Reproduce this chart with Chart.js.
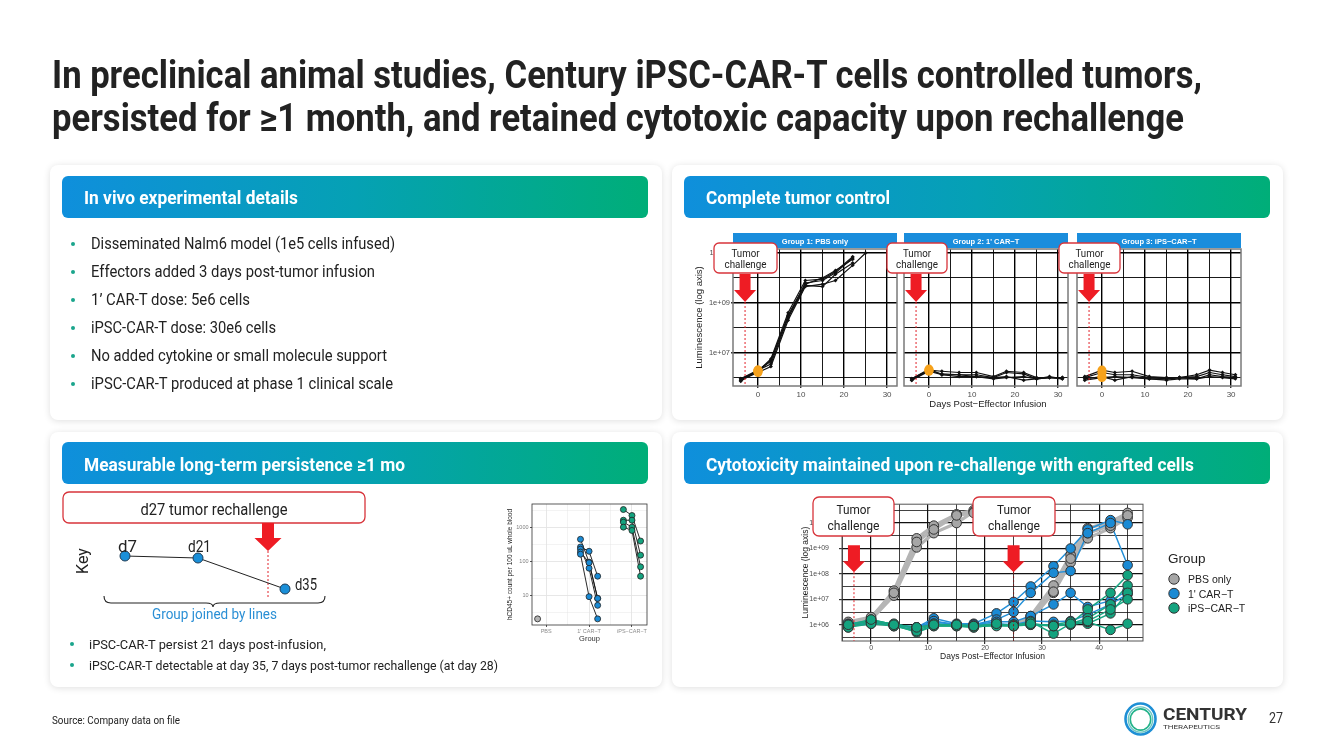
<!DOCTYPE html>
<html>
<head>
<meta charset="utf-8">
<title>Century iPSC-CAR-T preclinical</title>
<script src="https://cdn.jsdelivr.net/npm/chart.js@4.4.1/dist/chart.umd.min.js"></script>
<style>
html, body { margin: 0; padding: 0; background: #fff; }
#slide { position: relative; width: 1333px; height: 749px; overflow: hidden; background: #fff; }
.card { position: absolute; background: #fff; border-radius: 8px; box-shadow: 0 1px 7px rgba(0,0,0,0.13); }
canvas { position: absolute; }
#over { position: absolute; left: 0; top: 0; }
</style>
</head>
<body>
<div id="slide">
  <div class="card" style="left:50px;top:165px;width:612px;height:255px"></div>
  <div class="card" style="left:672px;top:165px;width:611px;height:255px"></div>
  <div class="card" style="left:50px;top:432px;width:612px;height:255px"></div>
  <div class="card" style="left:672px;top:432px;width:611px;height:255px"></div>

  <canvas id="f1" width="210" height="170" style="left:693px;top:240px"></canvas>
  <canvas id="f2" width="176" height="170" style="left:898px;top:240px"></canvas>
  <canvas id="f3" width="176" height="170" style="left:1071px;top:240px"></canvas>
  <canvas id="rc" width="350" height="175" style="left:800px;top:490px"></canvas>
  <canvas id="pc" width="150" height="145" style="left:503px;top:498px"></canvas>

  <svg id="over" width="1333" height="749" viewBox="0 0 1333 749" font-family="Roboto, sans-serif">
    <defs>
      <linearGradient id="hdr" x1="0" x2="1" y1="0" y2="0">
        <stop offset="0" stop-color="#0f8fdc"/>
        <stop offset="0.5" stop-color="#05a1b4"/>
        <stop offset="1" stop-color="#00ae78"/>
      </linearGradient>
    </defs>

    <!-- title -->
    <text x="52" y="88" font-weight="700" font-size="38.5" fill="#222" textLength="1150" lengthAdjust="spacingAndGlyphs">In preclinical animal studies, Century iPSC-CAR-T cells controlled tumors,</text>
    <text x="52" y="131" font-weight="700" font-size="38.5" fill="#222" textLength="1132" lengthAdjust="spacingAndGlyphs">persisted for ≥1 month, and retained cytotoxic capacity upon rechallenge</text>

    <!-- header bars -->
    <rect x="62" y="176" width="586" height="42" rx="6" fill="url(#hdr)"/>
    <rect x="684" y="176" width="586" height="42" rx="6" fill="url(#hdr)"/>
    <rect x="62" y="442" width="586" height="42" rx="6" fill="url(#hdr)"/>
    <rect x="684" y="442" width="586" height="42" rx="6" fill="url(#hdr)"/>
    <g font-weight="700" font-size="19" fill="#fff">
      <text x="84" y="204" textLength="214" lengthAdjust="spacingAndGlyphs">In vivo experimental details</text>
      <text x="706" y="204" textLength="184" lengthAdjust="spacingAndGlyphs">Complete tumor control</text>
      <text x="84" y="471" textLength="321" lengthAdjust="spacingAndGlyphs">Measurable long-term persistence ≥1 mo</text>
      <text x="706" y="471" textLength="488" lengthAdjust="spacingAndGlyphs">Cytotoxicity maintained upon re-challenge with engrafted cells</text>
    </g>

    <!-- bullets panel 1 -->
    <g fill="#1aa58c">
      <circle cx="73" cy="244" r="2"/><circle cx="73" cy="272" r="2"/><circle cx="73" cy="300" r="2"/>
      <circle cx="73" cy="328" r="2"/><circle cx="73" cy="356" r="2"/><circle cx="73" cy="384" r="2"/>
    </g>
    <g font-size="16" fill="#222">
      <text x="91" y="249" textLength="304" lengthAdjust="spacingAndGlyphs">Disseminated Nalm6 model (1e5 cells infused)</text>
      <text x="91" y="277" textLength="284" lengthAdjust="spacingAndGlyphs">Effectors added 3 days post-tumor infusion</text>
      <text x="91" y="305" textLength="159" lengthAdjust="spacingAndGlyphs">1’ CAR-T dose: 5e6 cells</text>
      <text x="91" y="333" textLength="185" lengthAdjust="spacingAndGlyphs">iPSC-CAR-T dose: 30e6 cells</text>
      <text x="91" y="361" textLength="296" lengthAdjust="spacingAndGlyphs">No added cytokine or small molecule support</text>
      <text x="91" y="389" textLength="302" lengthAdjust="spacingAndGlyphs">iPSC-CAR-T produced at phase 1 clinical scale</text>
    </g>

    <!-- facet strips -->
    <g font-family="'Liberation Sans', Arial, sans-serif" font-size="7.5" font-weight="700" fill="#fff" text-anchor="middle">
      <rect x="733" y="233" width="164" height="15" fill="#1a8ddc"/>
      <rect x="904" y="233" width="164" height="15" fill="#1a8ddc"/>
      <rect x="1077" y="233" width="164" height="15" fill="#1a8ddc"/>
      <text x="815" y="243.5">Group 1: PBS only</text>
      <text x="986" y="243.5">Group 2: 1' CAR−T</text>
      <text x="1159" y="243.5">Group 3: iPS−CAR−T</text>
    </g>
    <text x="988" y="407" font-family="'Liberation Sans', Arial, sans-serif" font-size="9.5" fill="#222" text-anchor="middle">Days Post−Effector Infusion</text>

    <!-- callouts panel 2 -->
    <g fill="#fff" stroke="#d8343b" stroke-width="1.3">
      <rect x="714" y="243" width="63" height="30" rx="5"/>
      <rect x="887" y="243" width="60" height="30" rx="5"/>
      <rect x="1059" y="243" width="61" height="30" rx="5"/>
    </g>
    <g font-size="11" fill="#222" text-anchor="middle">
      <text x="745.5" y="257" textLength="28" lengthAdjust="spacingAndGlyphs">Tumor</text>
      <text x="745.5" y="268" textLength="42" lengthAdjust="spacingAndGlyphs">challenge</text>
      <text x="917" y="257" textLength="28" lengthAdjust="spacingAndGlyphs">Tumor</text>
      <text x="917" y="268" textLength="42" lengthAdjust="spacingAndGlyphs">challenge</text>
      <text x="1089.5" y="257" textLength="28" lengthAdjust="spacingAndGlyphs">Tumor</text>
      <text x="1089.5" y="268" textLength="42" lengthAdjust="spacingAndGlyphs">challenge</text>
    </g>

    <!-- callouts panel 4 -->
    <g fill="#fff" stroke="#d8343b" stroke-width="1.3">
      <rect x="813" y="497" width="81" height="39" rx="6"/>
      <rect x="973" y="497" width="82" height="39" rx="6"/>
    </g>
    <g font-size="13" fill="#222" text-anchor="middle">
      <text x="853.5" y="514" textLength="34" lengthAdjust="spacingAndGlyphs">Tumor</text>
      <text x="853.5" y="530" textLength="52" lengthAdjust="spacingAndGlyphs">challenge</text>
      <text x="1014" y="514" textLength="34" lengthAdjust="spacingAndGlyphs">Tumor</text>
      <text x="1014" y="530" textLength="52" lengthAdjust="spacingAndGlyphs">challenge</text>
    </g>

    <!-- legend panel 4 -->
    <g font-family="'Liberation Sans', Arial, sans-serif" fill="#222">
      <text x="1168" y="563" font-size="13.5">Group</text>
      <circle cx="1174" cy="579" r="5.2" fill="#a6a6a6" stroke="#333" stroke-width="1"/>
      <circle cx="1174" cy="593.5" r="5.2" fill="#1a8ad4" stroke="#333" stroke-width="1"/>
      <circle cx="1174" cy="608" r="5.2" fill="#14a37f" stroke="#333" stroke-width="1"/>
      <text x="1188" y="583" font-size="10.5">PBS only</text>
      <text x="1188" y="597.5" font-size="10.5">1' CAR−T</text>
      <text x="1188" y="612" font-size="10.5">iPS−CAR−T</text>
    </g>

    <!-- key, panel 3 -->
    <rect x="63" y="492" width="302" height="31" rx="6" fill="#fff" stroke="#d8343b" stroke-width="1.3"/>
    <text x="214" y="515" font-size="16" fill="#222" text-anchor="middle" textLength="147" lengthAdjust="spacingAndGlyphs">d27 tumor rechallenge</text>
    <path d="M262,523 H274 V538 H281.5 L268,551 L254.5,538 H262 Z" fill="#ee1c24"/>
    <line x1="268" y1="551" x2="268" y2="598" stroke="#e2232a" stroke-width="1" stroke-dasharray="2,2"/>
    <text transform="translate(88,561) rotate(-90)" font-size="16" fill="#222" text-anchor="middle">Key</text>
    <polyline points="125,556 198,558 285,589" fill="none" stroke="#222" stroke-width="1"/>
    <g fill="#1a8fd8" stroke="#1d3b55" stroke-width="1">
      <circle cx="125" cy="556" r="5"/><circle cx="198" cy="558" r="5"/><circle cx="285" cy="589" r="5"/>
    </g>
    <g font-size="16" fill="#222">
      <text x="118" y="552" textLength="19" lengthAdjust="spacingAndGlyphs">d7</text>
      <text x="188" y="552" textLength="23" lengthAdjust="spacingAndGlyphs">d21</text>
      <text x="295" y="590" textLength="22" lengthAdjust="spacingAndGlyphs">d35</text>
    </g>
    <path d="M104,596 Q104,603 111,603 L206,603 Q213,603 213,607 Q213,603 220,603 L318,603 Q325,603 325,596" fill="none" stroke="#222" stroke-width="1.1"/>
    <text x="214.5" y="619" font-size="14" fill="#2a8fd5" text-anchor="middle" textLength="125" lengthAdjust="spacingAndGlyphs">Group joined by lines</text>

    <!-- bullets panel 3 -->
    <circle cx="72" cy="644" r="2" fill="#1aa58c"/>
    <circle cx="72" cy="665" r="2" fill="#1aa58c"/>
    <text x="89" y="649" font-size="13.5" fill="#222" textLength="237" lengthAdjust="spacingAndGlyphs">iPSC-CAR-T persist 21 days post-infusion,</text>
    <text x="89" y="670" font-size="13.5" fill="#222" textLength="409" lengthAdjust="spacingAndGlyphs">iPSC-CAR-T detectable at day 35, 7 days post-tumor rechallenge (at day 28)</text>

    <!-- footer -->
    <text x="52" y="724" font-size="11" fill="#222" textLength="128" lengthAdjust="spacingAndGlyphs">Source: Company data on file</text>
    <ellipse cx="1140.5" cy="719" rx="15" ry="15.5" fill="none" stroke="#1e8fd5" stroke-width="2.6"/>
    <ellipse cx="1140.5" cy="719.5" rx="12.2" ry="12.6" fill="none" stroke="#6cc6c2" stroke-width="1.4"/>
    <ellipse cx="1140.5" cy="719.5" rx="10.2" ry="10.6" fill="none" stroke="#22b289" stroke-width="1.6"/>
    <text x="1163" y="720" font-size="16" font-weight="700" fill="#333" textLength="84" lengthAdjust="spacingAndGlyphs">CENTURY</text>
    <text x="1163" y="728.5" font-size="5.5" fill="#333" textLength="57" lengthAdjust="spacingAndGlyphs">THERAPEUTICS</text>
    <text x="1269" y="723" font-size="14" fill="#333" textLength="14" lengthAdjust="spacingAndGlyphs">27</text>
  </svg>
</div>

<script>
// ---- complete tumor control (3 facets) ----
var tcDays = [-4, 0, 3, 7, 11, 15, 18, 22, 25, 28, 31];
var tcTicksX = [0, 5, 10, 15, 20, 25, 30];
var tcTicksY = [1e6, 1e7, 1e8, 1e9, 1e10, 1e11];
var tcLabelsY = [1e7, 1e9, 1e11];
var tcChallengeDay = -3;
// luminescence per mouse, one row per mouse
var pbsMice = [
    [7.9e5, 1.8e6, 5.6e6, 4.0e8, 7.9e9, 8.9e9, 1.8e10, 7.1e10, null, null, null],
    [8.9e5, 2.0e6, 4.5e6, 3.2e8, 5.6e9, 1.0e10, 2.0e10, 5.6e10, null, null, null],
    [7.1e5, 2.0e6, 3.5e6, 2.5e8, 5.0e9, 4.5e9, 1.4e10, 4.0e10, null, null, null],
    [7.9e5, 1.6e6, 2.8e6, 2.0e8, 4.5e9, 5.6e9, 7.9e9, 3.2e10, 1.0e11, null, null],
    [8.9e5, 1.8e6, 5.0e6, 2.8e8, 6.3e9, 7.9e9, 1.6e10, 6.3e10, null, null, null]
];
var cartMice = [
    [8.9e5, 2.0e6, 1.8e6, 1.6e6, 1.6e6, 1.1e6, 1.8e6, 1.6e6, 1.0e6, 1.0e6, 8.9e5],
    [7.9e5, 2.0e6, 1.4e6, 1.3e6, 1.3e6, 1.0e6, 1.1e6, 7.9e5, 8.9e5, 1.1e6, 8.9e5],
    [8.9e5, 2.2e6, 1.3e6, 1.1e6, 1.1e6, 8.9e5, 1.0e6, 1.1e6, 8.9e5, 1.0e6, 1.0e6],
    [7.9e5, 1.8e6, 1.3e6, 1.3e6, 1.1e6, 1.0e6, 1.6e6, 1.4e6, 8.9e5, 1.0e6, 1.0e6]
];
var ipsMice = [
    [1.1e6, 2.0e6, 1.6e6, 1.8e6, 1.1e6, 1.0e6, 1.0e6, 1.3e6, 2.0e6, 1.6e6, 1.3e6],
    [1.0e6, 1.6e6, 1.3e6, 1.3e6, 1.0e6, 8.9e5, 1.0e6, 1.1e6, 1.6e6, 1.3e6, 1.1e6],
    [8.9e5, 1.1e6, 7.9e5, 1.1e6, 8.9e5, 8.9e5, 1.0e6, 8.9e5, 1.3e6, 1.1e6, 1.0e6],
    [7.9e5, 1.0e6, 1.1e6, 1.0e6, 8.9e5, 7.9e5, 8.9e5, 8.9e5, 1.1e6, 1.0e6, 8.9e5]
];

// ---- re-challenge ----
var rcDays = [-4, 0, 4, 8, 11, 15, 18, 22, 25, 28, 32, 35, 38, 42, 45];
var rcTicksX = [-5, 0, 5, 10, 15, 20, 25, 30, 35, 40, 45];
var rcTicksY = [3.162e5, 1e6, 3.162e6, 1e7, 3.162e7, 1e8, 3.162e8, 1e9, 3.162e9, 1e10, 3.162e10];
var rcChallengeDays = [-3, 25];
var rcPbs = [
    [1.1e6, 1.8e6, 2.2e7, 2.5e9, 7.9e9, 2.2e10, 3.2e10, null, null, null, null, null, null, null, null],
    [1.0e6, 1.6e6, 1.4e7, 1.1e9, 4.0e9, 1.0e10, 2.8e10, null, null, null, null, null, null, null, null],
    [1.3e6, 2.0e6, 1.8e7, 1.8e9, 5.6e9, 2.0e10, 2.5e10, null, null, null, null, null, null, null, null],
    [null, null, null, null, null, null, null, null, 1.0e6, 2.2e6, 3.5e7, 5.6e8, 6.3e9, 1.1e10, 2.5e10],
    [null, null, null, null, null, null, null, null, 8.9e5, 1.6e6, 1.8e7, 2.8e8, 2.5e9, 6.3e9, 1.6e10],
    [null, null, null, null, null, null, null, null, 1.0e6, 2.0e6, 2.0e7, 4.0e8, 4.0e9, 7.9e9, 2.0e10]
];
var rcCart = [
    [1.1e6, 1.4e6, 1.0e6, 7.9e5, 1.8e6, 1.1e6, 1.1e6, 2.8e6, 7.9e6, 3.2e7, 2.0e8, 1.0e9, 5.6e9, 1.3e10, 8.9e9],
    [1.0e6, 1.3e6, 1.0e6, 7.1e5, 1.3e6, 1.0e6, 1.0e6, 1.6e6, 3.2e6, 1.8e7, 1.1e8, 1.3e8, 4.0e9, 1.0e10, 2.2e8],
    [1.0e6, 1.3e6, 8.9e5, 7.9e5, 1.4e6, 1.0e6, 1.0e6, 1.3e6, 1.3e6, 2.2e6, 6.3e6, 1.8e7, 5.0e6, 8.9e6, 2.2e7],
    [8.9e5, 1.1e6, 1.0e6, 7.9e5, 1.1e6, 1.0e6, 1.0e6, 1.1e6, 1.0e6, 1.4e6, 1.3e6, 1.4e6, 2.5e6, 6.3e6, 1.6e7]
];
var rcIps = [
    [8.9e5, 1.6e6, 1.0e6, 5.0e5, 8.9e5, 8.9e5, 7.9e5, 1.0e6, 1.0e6, 1.1e6, 8.9e5, 1.1e6, 4.0e6, 1.8e7, 8.9e7],
    [7.9e5, 1.3e6, 8.9e5, 6.3e5, 1.0e6, 1.0e6, 8.9e5, 1.0e6, 8.9e5, 1.3e6, 4.5e5, 1.1e6, 1.8e6, 6.3e6, 3.5e7],
    [1.0e6, 1.4e6, 1.1e6, 7.1e5, 1.1e6, 8.9e5, 7.9e5, 1.0e6, 1.0e6, 1.0e6, 1.0e6, 1.3e6, 1.1e6, 2.8e6, 1.8e7],
    [7.9e5, 1.1e6, 8.9e5, 5.6e5, 8.9e5, 8.9e5, 8.9e5, 8.9e5, 8.9e5, 1.0e6, 8.9e5, 1.0e6, 1.3e6, 6.3e5, 1.1e6],
    [1.0e6, 1.6e6, 1.0e6, 7.9e5, 1.0e6, 1.0e6, 8.9e5, 1.1e6, 8.9e5, 1.1e6, 8.9e5, 1.1e6, 1.4e6, 4.0e6, 1.0e7]
];

// ---- persistence (hCD45+ per 100 uL blood at d7, d21, d35) ----
var pGroups = ['PBS', "1' CAR\u2212T", 'iPS\u2212CAR\u2212T'];
var pDays = ['d7', 'd21', 'd35'];
var pTicksX = [0, 0.5, 1, 1.5, 2];
var pTicksY = [3.162, 10, 31.62, 100, 316.2, 1000, 3162];
var pPbs = [[2, null, null]];
var pCart = [[440, 93, 8], [260, 195, 36], [225, 62, 5], [185, 90, 8], [160, 9, 2]];
var pIps = [[3300, 2200, 390], [1600, 1600, 150], [1400, 1000, 68], [1000, 800, 36]];

Chart.defaults.font.family = "'Liberation Sans', Arial, sans-serif";
Chart.defaults.color = '#4d4d4d';
Chart.defaults.animation = false;
Chart.defaults.responsive = false;
Chart.defaults.plugins.legend.display = false;
Chart.defaults.plugins.tooltip.enabled = false;

function isDecade(v) { var l = Math.log10(v); return Math.abs(l - Math.round(l)) < 0.01; }
function sci(v) { var e = Math.round(Math.log10(v)); return '1e+' + (e < 10 ? '0' + e : e); }
function setTicks(list) { return function (s) { s.ticks = list.map(function (v) { return { value: v }; }); }; }
function pts(days, row) { return days.map(function (d, i) { return { x: d, y: row[i] }; }); }

// panel border on top, like ggplot
var framePlugin = {
    id: 'frame',
    afterDatasetsDraw: function (chart, args, o) {
        var a = chart.chartArea, c = chart.ctx;
        c.save();
        c.strokeStyle = o.color || '#333';
        c.lineWidth = o.width || 1;
        c.strokeRect(a.left, a.top, a.right - a.left, a.bottom - a.top);
        c.restore();
    }
};

// red arrow + dotted line at a challenge day
var challengePlugin = {
    id: 'challenge',
    afterDraw: function (chart, args, o) {
        if (!o.marks) return;
        var c = chart.ctx, a = chart.chartArea, xs = chart.scales.x;
        o.marks.forEach(function (m) {
            var x = xs.getPixelForValue(m.day);
            var top = a.top + m.top, tip = top + m.len, hy = tip - m.headLen;
            c.save();
            c.strokeStyle = m.line;
            c.lineWidth = 1;
            c.setLineDash([2, 2]);
            c.beginPath(); c.moveTo(x, tip); c.lineTo(x, a.bottom); c.stroke();
            c.setLineDash([]);
            c.fillStyle = '#ee1c24';
            c.beginPath();
            c.moveTo(x - m.shaft / 2, top); c.lineTo(x + m.shaft / 2, top);
            c.lineTo(x + m.shaft / 2, hy); c.lineTo(x + m.head / 2, hy);
            c.lineTo(x, tip); c.lineTo(x - m.head / 2, hy);
            c.lineTo(x - m.shaft / 2, hy); c.closePath(); c.fill();
            c.restore();
        });
    }
};

function facet(id, mice, withAxis) {
    var sets = mice.map(function (m) {
        return { data: pts(tcDays, m), borderColor: '#111', borderWidth: 1.2, pointStyle: 'rectRot',
            pointRadius: 2, pointBackgroundColor: '#111', pointBorderWidth: 0, order: 2 };
    });
    var i0 = tcDays.indexOf(0);
    sets.push({ data: mice.map(function (m) { return { x: 0, y: m[i0] }; }), showLine: false,
        pointRadius: 4.5, pointBackgroundColor: '#f6a21c', pointBorderWidth: 0, order: 1 });
    return new Chart(document.getElementById(id), {
        type: 'line',
        data: { datasets: sets },
        options: {
            layout: { padding: { top: 9, right: 6, left: withAxis ? 0 : 6, bottom: 0 } },
            scales: {
                x: {
                    type: 'linear', min: -5.8, max: 32.3,
                    afterBuildTicks: setTicks(tcTicksX),
                    afterFit: function (s) { s.height = 24; },
                    border: { display: false },
                    grid: {
                        color: '#000', tickLength: 2,
                        lineWidth: function (c) { return c.tick && c.tick.value % 10 === 0 ? 1.4 : 0.9; },
                        tickColor: function (c) { return c.tick && c.tick.value % 10 === 0 ? '#333' : 'rgba(0,0,0,0)'; }
                    },
                    ticks: { autoSkip: false, maxRotation: 0, padding: 2, font: { size: 8 },
                        callback: function (v) { return v % 10 === 0 ? String(v) : ''; } }
                },
                y: {
                    type: 'logarithmic', min: 4.6e5, max: 1.45e11,
                    afterBuildTicks: setTicks(tcTicksY),
                    afterFit: function (s) { s.width = withAxis ? 40 : 0; },
                    border: { display: false },
                    grid: {
                        color: '#000', tickLength: 2, drawTicks: withAxis,
                        lineWidth: function (c) { return c.tick && tcLabelsY.indexOf(c.tick.value) >= 0 ? 1.4 : 0.9; },
                        tickColor: function (c) { return c.tick && tcLabelsY.indexOf(c.tick.value) >= 0 ? '#333' : 'rgba(0,0,0,0)'; }
                    },
                    ticks: { display: withAxis, autoSkip: false, padding: 1, font: { size: 7.5 },
                        callback: function (v) { return tcLabelsY.indexOf(v) >= 0 ? sci(v) : ''; } },
                    title: { display: withAxis, text: 'Luminescence (log axis)', color: '#222',
                        font: { size: 9.5 }, padding: { top: 1, bottom: 0 } }
                }
            },
            plugins: {
                frame: { color: '#7a7a7a', width: 1.5 },
                challenge: { marks: [{ day: tcChallengeDay, top: 25, len: 28, headLen: 12, shaft: 11, head: 22, line: '#e2232a' }] }
            }
        },
        plugins: [framePlugin, challengePlugin]
    });
}
facet('f1', pbsMice, true);
facet('f2', cartMice, false);
facet('f3', ipsMice, false);

// re-challenge chart: lines under points, like geom_line + geom_point
var rcSets = [];
function rcGroup(rows, fill, line, lw, lineOrder, ptOrder) {
    var all = [];
    rows.forEach(function (r) {
        rcSets.push({ data: pts(rcDays, r), borderColor: line, borderWidth: lw, pointRadius: 0, order: lineOrder });
        pts(rcDays, r).forEach(function (p) { if (p.y != null) all.push(p); });
    });
    rcSets.push({ data: all, showLine: false, pointRadius: 4.8, pointBackgroundColor: fill,
        pointBorderColor: '#333', pointBorderWidth: 1, order: ptOrder });
}
rcGroup(rcPbs, '#a6a6a6', '#b5b5b5', 3.2, 6, 3);
rcGroup(rcCart, '#1a8ad4', '#2590d8', 1.5, 5, 2);
rcGroup(rcIps, '#14a37f', '#19a683', 1.5, 4, 1);

new Chart(document.getElementById('rc'), {
    type: 'line',
    data: { datasets: rcSets },
    options: {
        layout: { padding: { top: 6, right: 7, left: 0, bottom: 0 } },
        scales: {
            x: {
                type: 'linear', min: -5.1, max: 47.7,
                afterBuildTicks: setTicks(rcTicksX),
                afterFit: function (s) { s.height = 24; },
                border: { display: false },
                grid: {
                    color: '#111', tickLength: 3,
                    lineWidth: function (c) { return c.tick && c.tick.value % 10 === 0 ? 1.2 : 0.8; },
                    tickColor: function (c) { return c.tick && c.tick.value % 10 === 0 ? '#333' : 'rgba(0,0,0,0)'; }
                },
                ticks: { autoSkip: false, maxRotation: 0, padding: 0, font: { size: 7 },
                    callback: function (v) { return v % 10 === 0 ? String(v) : ''; } },
                title: { display: true, text: 'Days Post\u2212Effector Infusion', color: '#222',
                    font: { size: 8.5 }, padding: { top: 0, bottom: 3 } }
            },
            y: {
                type: 'logarithmic', min: 2.3e5, max: 5.5e10,
                afterBuildTicks: setTicks(rcTicksY),
                afterFit: function (s) { s.width = 42; },
                border: { display: false },
                grid: {
                    color: '#111', tickLength: 3,
                    lineWidth: function (c) { return c.tick && isDecade(c.tick.value) ? 1.2 : 0.8; },
                    tickColor: function (c) { return c.tick && isDecade(c.tick.value) ? '#333' : 'rgba(0,0,0,0)'; }
                },
                ticks: { autoSkip: false, padding: 10, font: { size: 7 },
                    callback: function (v) { return isDecade(v) ? sci(v) : ''; } },
                title: { display: true, text: 'Luminescence (log axis)', color: '#222',
                    font: { size: 8.5 }, padding: { top: 1, bottom: 0 } }
            }
        },
        plugins: {
            frame: { color: '#555', width: 1 },
            challenge: { marks: [
                { day: rcChallengeDays[0], top: 41, len: 27, headLen: 11, shaft: 12, head: 22, line: '#e2232a' },
                { day: rcChallengeDays[1], top: 41, len: 27, headLen: 11, shaft: 12, head: 22, line: '#7a1b1b' }
            ] }
        }
    },
    plugins: [framePlugin, challengePlugin]
});

// persistence chart, points dodged by sample day
var dodge = [-0.2, 0, 0.2];
var pSets = [];
function pGroup(rows, gi, fill) {
    var all = [];
    rows.forEach(function (r) {
        var d = r.map(function (v, j) { return { x: gi + dodge[j], y: v }; });
        pSets.push({ data: d, borderColor: '#111', borderWidth: 0.9, pointRadius: 0, order: 2 });
        d.forEach(function (p) { if (p.y != null) all.push(p); });
    });
    pSets.push({ data: all, showLine: false, pointRadius: 3, pointBackgroundColor: fill,
        pointBorderColor: '#222', pointBorderWidth: 0.8, order: 1 });
}
pGroup(pPbs, 0, '#b3b3b3');
pGroup(pCart, 1, '#1a8ad4');
pGroup(pIps, 2, '#14a37f');

new Chart(document.getElementById('pc'), {
    type: 'line',
    data: { datasets: pSets },
    options: {
        layout: { padding: { top: 6, right: 6, left: 0, bottom: 0 } },
        scales: {
            x: {
                type: 'linear', min: -0.33, max: 2.35,
                afterBuildTicks: setTicks(pTicksX),
                afterFit: function (s) { s.height = 18; },
                border: { display: false },
                grid: {
                    color: '#e4e4e4', tickLength: 2,
                    lineWidth: function (c) { return c.tick && c.tick.value % 1 === 0 ? 0.9 : 0.45; },
                    tickColor: function (c) { return c.tick && c.tick.value % 1 === 0 ? '#444' : 'rgba(0,0,0,0)'; }
                },
                ticks: { autoSkip: false, maxRotation: 0, padding: 1, font: { size: 5.5 }, color: '#8c8c8c',
                    callback: function (v) { return v % 1 === 0 ? pGroups[v] : ''; } },
                title: { display: true, text: 'Group', color: '#333', font: { size: 7.5 }, padding: { top: 0, bottom: 0 } }
            },
            y: {
                type: 'logarithmic', min: 1.32, max: 4800,
                afterBuildTicks: setTicks(pTicksY),
                afterFit: function (s) { s.width = 29; },
                border: { display: false },
                grid: {
                    color: '#e4e4e4', tickLength: 2,
                    lineWidth: function (c) { return c.tick && isDecade(c.tick.value) ? 0.9 : 0.45; },
                    tickColor: function (c) { return c.tick && isDecade(c.tick.value) ? '#444' : 'rgba(0,0,0,0)'; }
                },
                ticks: { autoSkip: false, padding: 1.5, font: { size: 5.5 }, color: '#7f7f7f',
                    callback: function (v) { return isDecade(v) ? String(Math.round(v)) : ''; } },
                title: { display: true, text: 'hCD45+ count per 100 uL whole blood', color: '#222',
                    font: { size: 6.5 }, padding: { top: 3, bottom: 0 } }
            }
        },
        plugins: { frame: { color: '#333', width: 0.8 } }
    },
    plugins: [framePlugin]
});
</script>
</body>
</html>
